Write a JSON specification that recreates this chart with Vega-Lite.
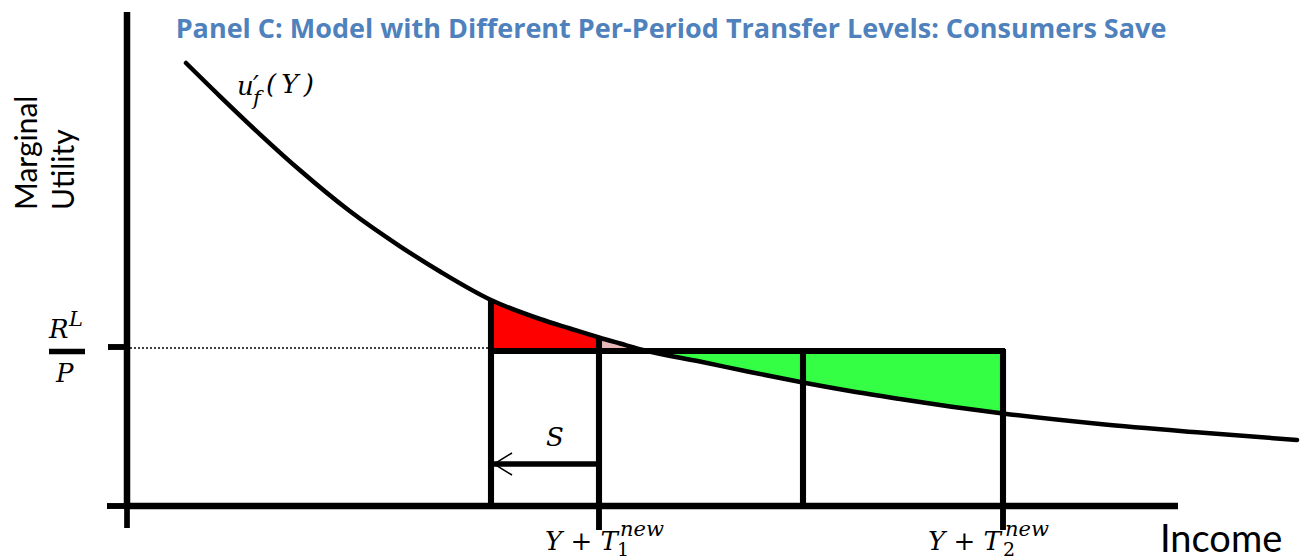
{
  "$schema": "https://vega.github.io/schema/vega-lite/v6.json",
  "width": 1306,
  "height": 559,
  "padding": 0,
  "autosize": {"type": "none"},
  "background": "white",
  "config": {"view": {"stroke": null}},
  "datasets": {
    "curve": [
      {"income": 59, "mu": 443}, {"income": 93, "mu": 409.7}, {"income": 133, "mu": 371.7},
      {"income": 173, "mu": 335.7}, {"income": 223, "mu": 294.7}, {"income": 273, "mu": 259.7},
      {"income": 313, "mu": 234.5}, {"income": 364, "mu": 206}, {"income": 413, "mu": 187},
      {"income": 443, "mu": 177.5}, {"income": 472, "mu": 168.5}, {"income": 493, "mu": 162.5},
      {"income": 518, "mu": 155.5}, {"income": 573, "mu": 144.5}, {"income": 623, "mu": 134},
      {"income": 676, "mu": 123.5}, {"income": 723, "mu": 115}, {"income": 773, "mu": 107},
      {"income": 823, "mu": 99.5}, {"income": 876, "mu": 92.5}, {"income": 973, "mu": 82},
      {"income": 1073, "mu": 73.5}, {"income": 1170, "mu": 66}
    ],
    "regions": [
      {"region": "loss", "income": 364, "mu": 206, "level": 155},
      {"region": "loss", "income": 413, "mu": 187, "level": 155},
      {"region": "loss", "income": 443, "mu": 177.5, "level": 155},
      {"region": "loss", "income": 472, "mu": 168.5, "level": 155},
      {"region": "small", "income": 472, "mu": 168.5, "level": 155},
      {"region": "small", "income": 493, "mu": 162.5, "level": 155},
      {"region": "small", "income": 518, "mu": 155.5, "level": 155},
      {"region": "gain", "income": 518, "mu": 155.5, "level": 155},
      {"region": "gain", "income": 573, "mu": 144.5, "level": 155},
      {"region": "gain", "income": 623, "mu": 134, "level": 155},
      {"region": "gain", "income": 676, "mu": 123.5, "level": 155},
      {"region": "gain", "income": 723, "mu": 115, "level": 155},
      {"region": "gain", "income": 773, "mu": 107, "level": 155},
      {"region": "gain", "income": 823, "mu": 99.5, "level": 155},
      {"region": "gain", "income": 876, "mu": 92.5, "level": 155}
    ],
    "segments": [
      {"kind": "axisY", "x": 0, "x2": 0, "y": -3, "y2": 494},
      {"kind": "axisX", "x": -3, "x2": 1051, "y": 0, "y2": 0},
      {"kind": "tick", "x": -19, "x2": 0, "y": 159, "y2": 159},
      {"kind": "tick", "x": -20, "x2": 0, "y": 0, "y2": 0},
      {"kind": "thin", "x": 0, "x2": 0, "y": 0, "y2": -22},
      {"kind": "tick", "x": 472, "x2": 472, "y": 0, "y2": -24},
      {"kind": "tick", "x": 876, "x2": 876, "y": 0, "y2": -24},
      {"kind": "thick", "x": 364, "x2": 364, "y": 0, "y2": 207},
      {"kind": "thick", "x": 472, "x2": 472, "y": 0, "y2": 168.5},
      {"kind": "thick", "x": 676, "x2": 676, "y": 0, "y2": 155},
      {"kind": "thick", "x": 876, "x2": 876, "y": 0, "y2": 157},
      {"kind": "thick", "x": 362, "x2": 878, "y": 155, "y2": 155},
      {"kind": "thin", "x": 367, "x2": 472, "y": 42, "y2": 42},
      {"kind": "bar", "x": -78, "x2": -42, "y": 154.5, "y2": 154.5}
    ],
    "dotted": [{"x": 3, "x2": 362, "y": 158}],
    "arrowhead": [
      {"x": 385, "y": 53, "o": 1}, {"x": 367, "y": 42, "o": 2}, {"x": 385, "y": 31, "o": 3}
    ],
    "title": [{"label": "Panel C: Model with Different Per-Period Transfer Levels: Consumers Save", "x": 544, "y": 476}],
    "ylabel": [
      {"label": "Marginal", "x": -90, "y": 296},
      {"label": "Utility", "x": -53, "y": 296}
    ],
    "xlabel": [{"label": "Income", "x": 1033, "y": -46}],
    "math": [
      {"label": "u", "x": 110, "y": 411},
      {"label": "′", "x": 126, "y": 412},
      {"label": "(\u2009Y\u2009)", "x": 139, "y": 413},
      {"label": "R", "x": -78, "y": 168},
      {"label": "P", "x": -71, "y": 124},
      {"label": "S", "x": 419, "y": 60},
      {"label": "Y + T", "x": 418, "y": -44},
      {"label": "Y + T", "x": 801, "y": -44}
    ],
    "mathsmall": [
      {"label": "f", "x": 126, "y": 401},
      {"label": "L", "x": -58, "y": 180},
      {"label": "new", "x": 493, "y": -30},
      {"label": "new", "x": 878, "y": -30}
    ],
    "digits": [
      {"label": "1", "x": 490, "y": -50},
      {"label": "2", "x": 876, "y": -50}
    ]
  },
  "layer": [
    {
      "data": {"name": "regions"},
      "mark": {"type": "area", "interpolate": "monotone", "opacity": 1},
      "encoding": {
        "x": {"field": "income", "type": "quantitative", "scale": {"domain": [-127, 1179], "nice": false, "zero": false}, "axis": null},
        "y": {"field": "mu", "type": "quantitative", "scale": {"domain": [-53, 506], "nice": false, "zero": false}, "axis": null},
        "y2": {"field": "level"},
        "color": {"field": "region", "type": "nominal", "scale": {"domain": ["loss", "small", "gain"], "range": ["#ff0000", "#e6b9b8", "#35ff45"]}, "legend": null}
      }
    },
    {
      "data": {"name": "curve"},
      "mark": {"type": "line", "interpolate": "monotone", "color": "black", "strokeWidth": 4.5, "strokeCap": "round"},
      "encoding": {
        "x": {"field": "income", "type": "quantitative"},
        "y": {"field": "mu", "type": "quantitative"}
      }
    },
    {
      "data": {"name": "dotted"},
      "mark": {"type": "rule", "color": "black", "strokeWidth": 1.5, "strokeDash": [2, 2]},
      "encoding": {
        "x": {"field": "x", "type": "quantitative"},
        "x2": {"field": "x2"},
        "y": {"field": "y", "type": "quantitative"}
      }
    },
    {
      "data": {"name": "segments"},
      "mark": {"type": "rule", "color": "black"},
      "encoding": {
        "x": {"field": "x", "type": "quantitative"},
        "x2": {"field": "x2"},
        "y": {"field": "y", "type": "quantitative"},
        "y2": {"field": "y2"},
        "size": {"field": "kind", "type": "nominal", "scale": {"domain": ["axisY", "axisX", "thick", "tick", "thin", "bar"], "range": [6.5, 5.5, 4, 2.5, 1.5, 3]}, "legend": null}
      }
    },
    {
      "data": {"name": "arrowhead"},
      "mark": {"type": "line", "color": "black", "strokeWidth": 1.5},
      "encoding": {
        "x": {"field": "x", "type": "quantitative"},
        "y": {"field": "y", "type": "quantitative"},
        "order": {"field": "o"}
      }
    },
    {
      "data": {"name": "title"},
      "mark": {"type": "text", "font": "Open Sans", "fontWeight": "bold", "fontSize": 27, "color": "#4f81bd", "align": "center", "baseline": "middle"},
      "encoding": {
        "x": {"field": "x", "type": "quantitative"},
        "y": {"field": "y", "type": "quantitative"},
        "text": {"field": "label"}
      }
    },
    {
      "data": {"name": "ylabel"},
      "mark": {"type": "text", "font": "Lato", "fontSize": 30, "color": "black", "align": "left", "baseline": "alphabetic", "angle": 270},
      "encoding": {
        "x": {"field": "x", "type": "quantitative"},
        "y": {"field": "y", "type": "quantitative"},
        "text": {"field": "label"}
      }
    },
    {
      "data": {"name": "xlabel"},
      "mark": {"type": "text", "font": "Lato", "fontSize": 38, "color": "black", "align": "left", "baseline": "alphabetic"},
      "encoding": {
        "x": {"field": "x", "type": "quantitative"},
        "y": {"field": "y", "type": "quantitative"},
        "text": {"field": "label"}
      }
    },
    {
      "data": {"name": "math"},
      "mark": {"type": "text", "font": "DejaVu Serif", "fontStyle": "italic", "fontSize": 26, "color": "black", "align": "left", "baseline": "alphabetic"},
      "encoding": {
        "x": {"field": "x", "type": "quantitative"},
        "y": {"field": "y", "type": "quantitative"},
        "text": {"field": "label"}
      }
    },
    {
      "data": {"name": "mathsmall"},
      "mark": {"type": "text", "font": "DejaVu Serif", "fontStyle": "italic", "fontSize": 21, "color": "black", "align": "left", "baseline": "alphabetic"},
      "encoding": {
        "x": {"field": "x", "type": "quantitative"},
        "y": {"field": "y", "type": "quantitative"},
        "text": {"field": "label"}
      }
    },
    {
      "data": {"name": "digits"},
      "mark": {"type": "text", "font": "DejaVu Serif", "fontSize": 19, "color": "black", "align": "left", "baseline": "alphabetic"},
      "encoding": {
        "x": {"field": "x", "type": "quantitative"},
        "y": {"field": "y", "type": "quantitative"},
        "text": {"field": "label"}
      }
    }
  ]
}
